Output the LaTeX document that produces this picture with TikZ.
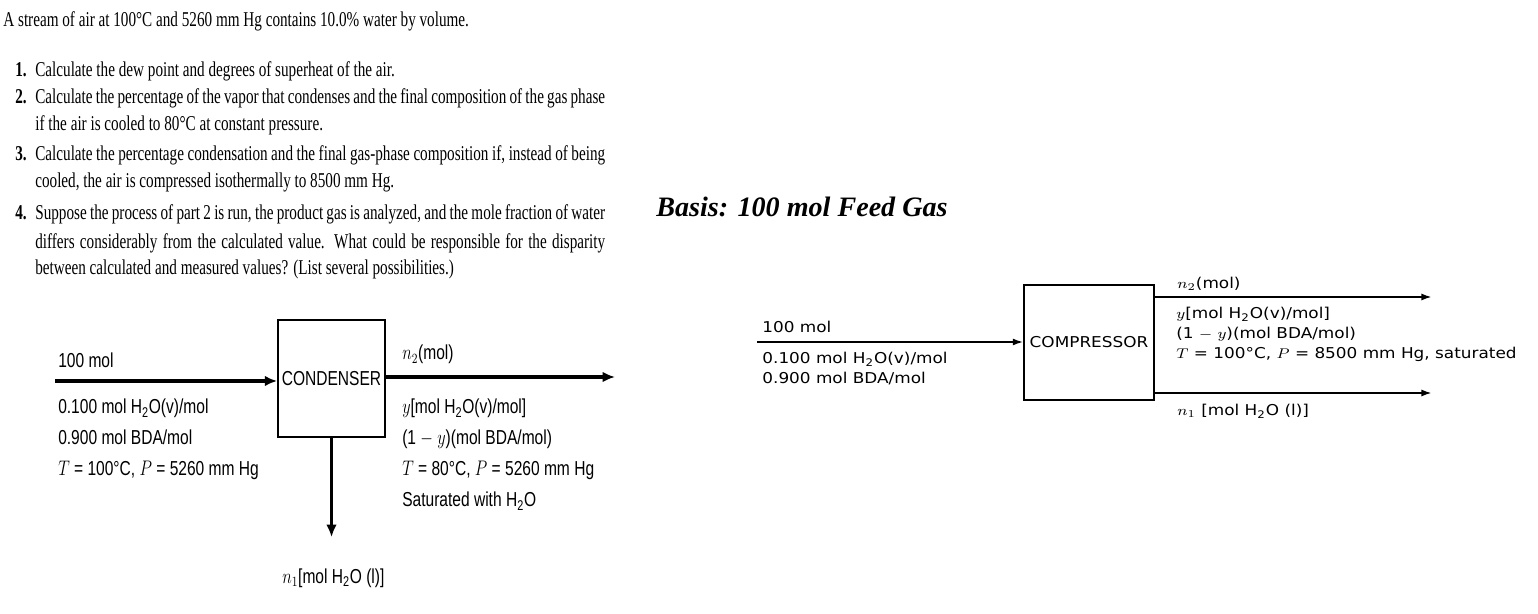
\documentclass[tikz,border=0pt]{standalone}
\usepackage{fontspec}
\setmainfont{Liberation Serif}
\setsansfont{Liberation Sans}
\newfontfamily\widesans{DejaVu Sans}
\usepackage{graphicx}
\usetikzlibrary{arrows.meta}

\newcommand{\nar}[1]{\scalebox{0.72}[1]{#1}}
\newcommand{\fullline}[1]{\scalebox{0.72}[1]{\makebox[15.83cm][s]{#1}}}

\begin{document}
\begin{tikzpicture}[x=0.02cm, y=-0.02cm,
  txt/.style={anchor=base west, inner sep=0pt, font=\fontsize{12}{14}\selectfont},
  cnd/.style={anchor=base west, inner sep=0pt, font=\sffamily\fontsize{11.5}{14}\selectfont, xscale=0.77, transform shape},
  wid/.style={anchor=base west, inner sep=0pt, font=\widesans\fontsize{8.5}{10}\selectfont, xscale=1.13, transform shape},
  fat/.style={line width=2pt, -{Latex[length=7pt,width=6pt]}},
  slim/.style={line width=1.3pt, -{Latex[length=6pt,width=4pt]}}]
\useasboundingbox (0,0) rectangle (1538,614);
% задача
\node[txt] (stream) at (3,27) {\nar{A stream of air at 100°C and 5260 mm Hg contains 10.0\% water by volume.}};
\node[txt] (q1) at (15,77) {\nar{\textbf{1.}}};
\node[txt] (q2) at (15,104) {\nar{\textbf{2.}}};
\node[txt] (q3) at (15,161) {\nar{\textbf{3.}}};
\node[txt] (q4) at (15,220) {\nar{\textbf{4.}}};
\node[txt] (l1) at (35,77) {\nar{Calculate the dew point and degrees of superheat of the air.}};
\node[txt] (l2) at (35,104) {\fullline{Calculate the percentage of the vapor that condenses and the final composition of the gas phase}};
\node[txt] (l3) at (35,131) {\nar{if the air is cooled to 80°C at constant pressure.}};
\node[txt] (l4) at (35,161) {\fullline{Calculate the percentage condensation and the final gas-phase composition if, instead of being}};
\node[txt] (l5) at (35,188) {\nar{cooled, the air is compressed isothermally to 8500 mm Hg.}};
\node[txt] (l6) at (35,220) {\fullline{Suppose the process of part 2 is run, the product gas is analyzed, and the mole fraction of water}};
\node[txt] (l7) at (35,249) {\fullline{differs considerably from the calculated value. What could be responsible for the disparity}};
\node[txt] (l8) at (35,275) {\nar{between calculated and measured values? (List several possibilities.)}};
% базис
\node[anchor=base west, inner sep=0pt, font=\bfseries\itshape\fontsize{16}{18}\selectfont] (basis) at (656,217) {Basis: 100 mol Feed Gas};
% конденсатор
\node[draw, line width=1pt, minimum width=2.14cm, minimum height=2.34cm, inner sep=0pt] (cond) at (331.5,378.5)
  {\sffamily\fontsize{11.5}{14}\selectfont\scalebox{0.77}[1]{CONDENSER}};
\coordinate (feedL) at (55,381);
\coordinate (gasL) at (615,377);
\coordinate (liqL) at (331.5,537);
\draw[fat] (feedL) -- (feedL -| cond.west);
\draw[fat] (cond.east |- gasL) -- (gasL);
\draw[fat, line width=1.2pt] (cond.south) -- (liqL);
\node[cnd] (mol) at (58,368) {100 mol};
\node[cnd] (wat) at (58,414) {0.100 mol H\textsubscript{2}O(v)/mol};
\node[cnd] (bda) at (58,445) {0.900 mol BDA/mol};
\node[cnd] (tp) at (58,476) {$T$ = 100°C, $P$ = 5260 mm Hg};
\node[cnd] (ntwo) at (402,360) {$n_2$(mol)};
\node[cnd] (ywat) at (402,414) {$y$[mol H\textsubscript{2}O(v)/mol]};
\node[cnd] (ybda) at (402,445) {(1 $-$ $y$)(mol BDA/mol)};
\node[cnd] (tpout) at (402,476) {$T$ = 80°C, $P$ = 5260 mm Hg};
\node[cnd] (sat) at (402,507) {Saturated with H\textsubscript{2}O};
\node[cnd] (none) at (282,583) {$n_1$[mol H\textsubscript{2}O (l)]};
% компрессор
\node[draw, line width=0.8pt, minimum width=2.6cm, minimum height=2.3cm, inner sep=0pt] (comp) at (1089,342.5)
  {\widesans\fontsize{8.5}{10}\selectfont\scalebox{1.13}[1]{COMPRESSOR}};
\coordinate (feedR) at (757,342);
\coordinate (gasR) at (1432,297);
\coordinate (liqR) at (1432,393);
\draw[slim, line width=1pt] (feedR) -- (feedR -| comp.west);
\draw[slim] (comp.east |- gasR) -- (gasR);
\draw[slim] (comp.east |- liqR) -- (liqR);
\node[wid] (molR) at (762,333) {100 mol};
\node[wid] (watR) at (762,364) {0.100 mol H\textsubscript{2}O(v)/mol};
\node[wid] (bdaR) at (762,384) {0.900 mol BDA/mol};
\node[wid] (ntwoR) at (1177,289) {$n_2$(mol)};
\node[wid] (ywatR) at (1176,319) {$y$[mol H\textsubscript{2}O(v)/mol]};
\node[wid] (ybdaR) at (1176,339) {(1 $-$ $y$)(mol BDA/mol)};
\node[wid] (tpR) at (1176,359) {$T$ = 100°C, $P$ = 8500 mm Hg, saturated};
\node[wid] (noneR) at (1177,416) {$n_1$ [mol H\textsubscript{2}O (l)]};
\end{tikzpicture}
\end{document}
